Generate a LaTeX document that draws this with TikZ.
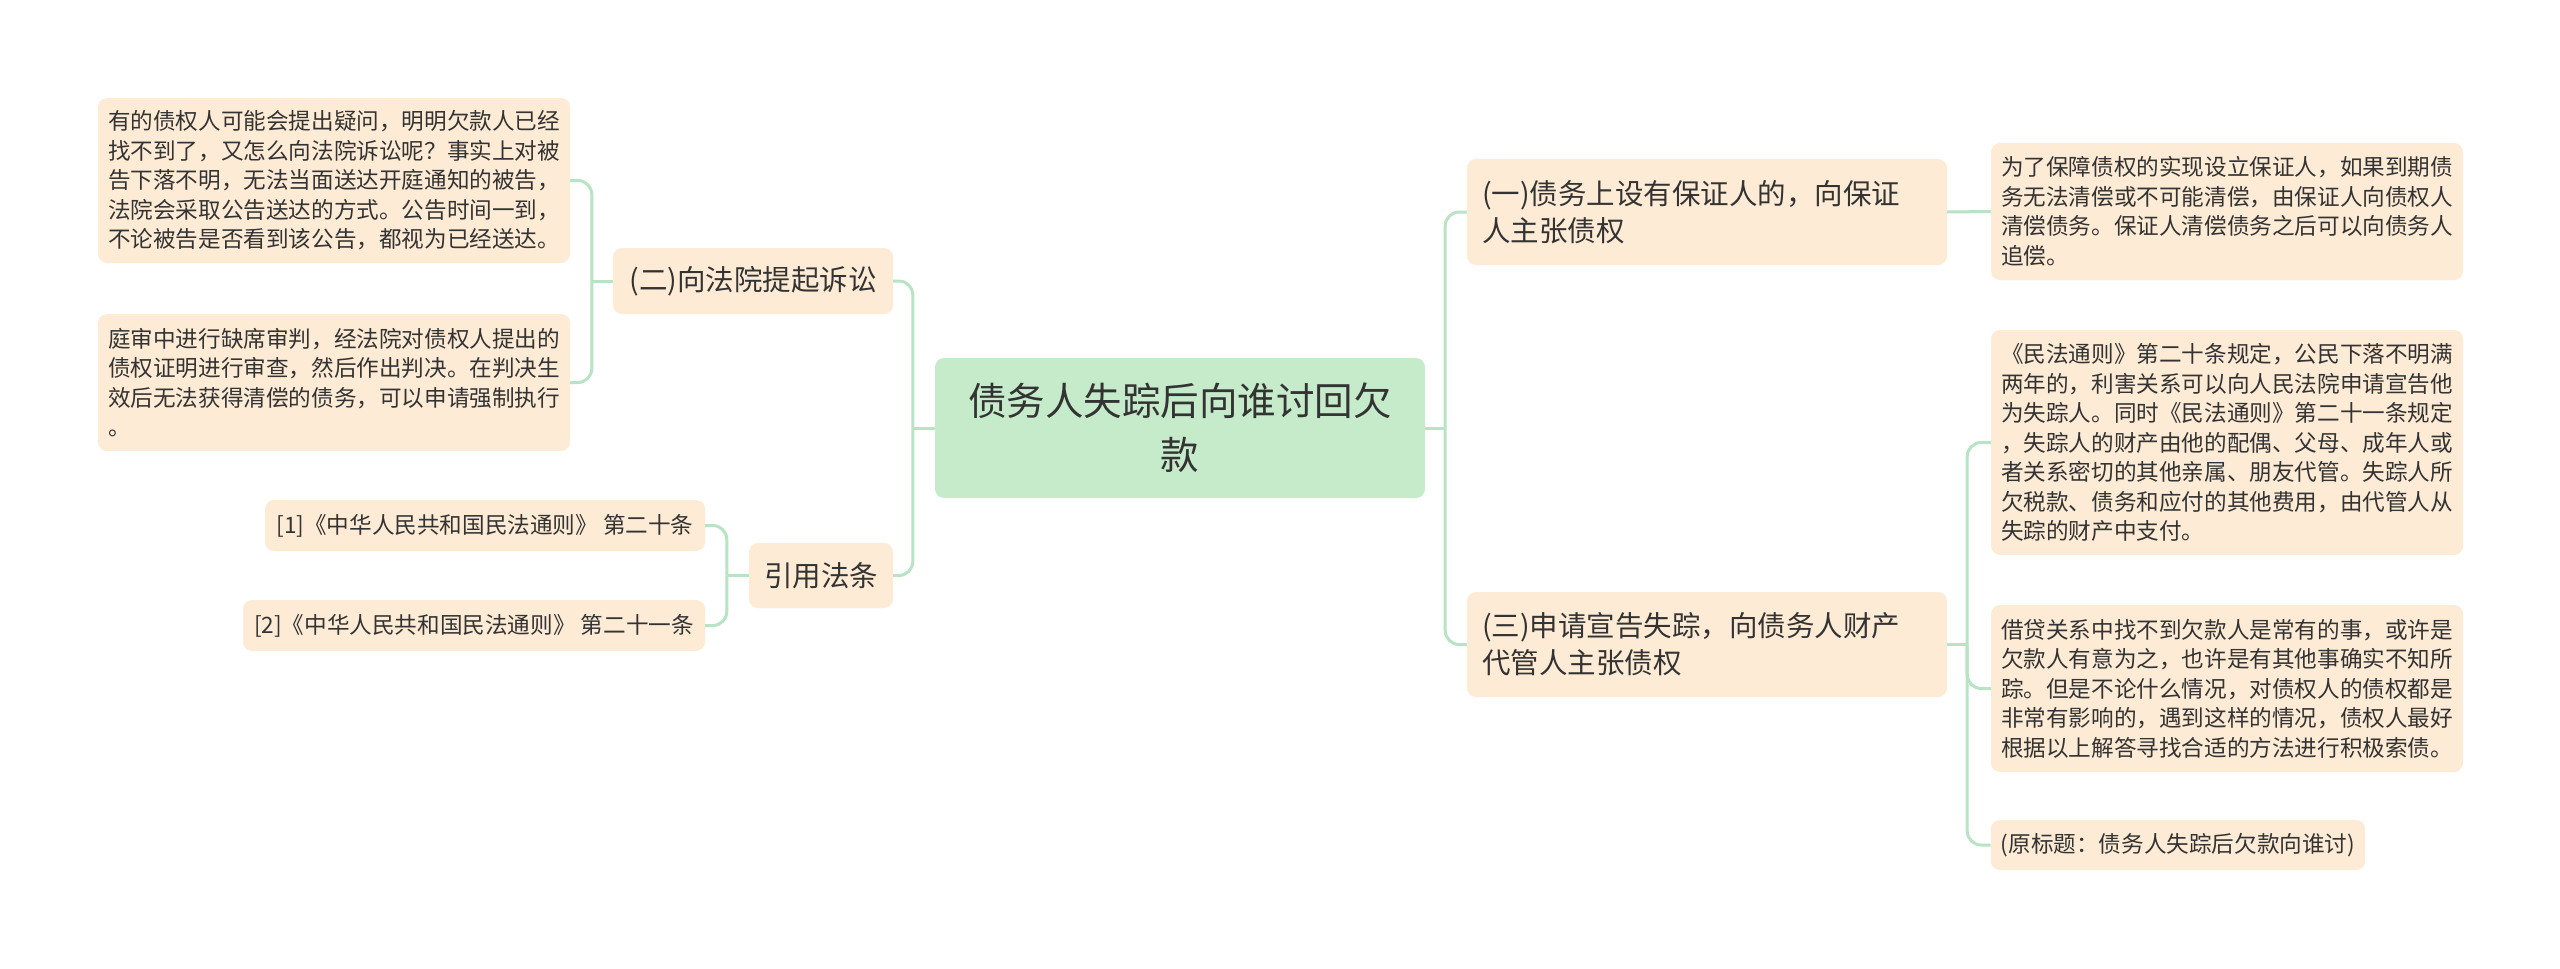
\documentclass[tikz,border=0pt]{standalone}
\usepackage{fontspec}
\setmainfont{Noto Sans CJK SC}
\usetikzlibrary{calc}
\definecolor{peach}{HTML}{FDEBD5}
\definecolor{mint}{HTML}{C5EBCB}
\definecolor{linec}{HTML}{B8E3C5}
\definecolor{txt}{HTML}{333333}
\begin{document}
\begin{tikzpicture}[x=1pt,y=-1pt,
  box/.style={fill=peach, rounded corners=9pt, inner xsep=10pt, inner ysep=0pt, text=txt, anchor=center},
  leaf/.style={box, font=\fontsize{22.6}{29.5}\selectfont, align=left},
  sub/.style={box, inner xsep=15pt, font=\fontsize{28.5}{37}\selectfont, align=left},
  rootbox/.style={box, fill=mint, font=\fontsize{38.5}{54}\selectfont, align=center},
  conn/.style={draw=linec, line width=3pt, rounded corners=14pt},
]
\useasboundingbox (0,0) rectangle (2560,969);
\fill[white] (0,0) rectangle (2560,969);

% root
\node[rootbox, minimum width=490pt, minimum height=140pt, text width=470pt] (root) at (1180,428)
  {债务人失踪后向谁讨回欠\\款};

% right branch
\node[sub, minimum width=480pt, minimum height=106pt, text width=450pt] (n1) at (1707,212)
  {(一)债务上设有保证人的，向保证\\人主张债权};
\node[sub, minimum width=480pt, minimum height=105pt, text width=450pt] (n3) at (1707,644.5)
  {(三)申请宣告失踪，向债务人财产\\代管人主张债权};

\node[leaf, minimum width=472pt, minimum height=137pt, text width=452pt] (t1) at (2227,211.5)
  {为了保障债权的实现设立保证人，如果到期债\\务无法清偿或不可能清偿，由保证人向债权人\\清偿债务。保证人清偿债务之后可以向债务人\\追偿。};
\node[leaf, minimum width=472pt, minimum height=225pt, text width=452pt] (t2) at (2227,442.5)
  {《民法通则》第二十条规定，公民下落不明满\\两年的，利害关系可以向人民法院申请宣告他\\为失踪人。同时《民法通则》第二十一条规定\\，失踪人的财产由他的配偶、父母、成年人或\\者关系密切的其他亲属、朋友代管。失踪人所\\欠税款、债务和应付的其他费用，由代管人从\\失踪的财产中支付。};
\node[leaf, minimum width=472pt, minimum height=167pt, text width=452pt] (t3) at (2227,688.5)
  {借贷关系中找不到欠款人是常有的事，或许是\\欠款人有意为之，也许是有其他事确实不知所\\踪。但是不论什么情况，对债权人的债权都是\\非常有影响的，遇到这样的情况，债权人最好\\根据以上解答寻找合适的方法进行积极索债。};
\node[leaf, minimum width=374pt, minimum height=50pt] (t4) at (2178,845)
  {(原标题：债务人失踪后欠款向谁讨)};

% left branch
\node[sub, minimum width=280pt, minimum height=66pt] (n2) at (753,281)
  {(二)向法院提起诉讼};
\node[sub, minimum width=144pt, minimum height=65pt] (law) at (821,575.5)
  {引用法条};

\node[leaf, minimum width=472pt, minimum height=165pt, text width=452pt] (a) at (334,180.5)
  {有的债权人可能会提出疑问，明明欠款人已经\\找不到了，又怎么向法院诉讼呢？事实上对被\\告下落不明，无法当面送达开庭通知的被告，\\法院会采取公告送达的方式。公告时间一到，\\不论被告是否看到该公告，都视为已经送达。};
\node[leaf, minimum width=472pt, minimum height=137pt, text width=452pt] (b) at (334,382.5)
  {庭审中进行缺席审判，经法院对债权人提出的\\债权证明进行审查，然后作出判决。在判决生\\效后无法获得清偿的债务，可以申请强制执行\\。};

\node[leaf, minimum width=440pt, minimum height=51pt] (r1) at (485,525.5)
  {[1]《中华人民共和国民法通则》 第二十条};
\node[leaf, minimum width=462pt, minimum height=51pt] (r2) at (474,625.5)
  {[2]《中华人民共和国民法通则》 第二十一条};

% connectors right
\draw[conn] (root.east) -- ++(20,0) coordinate (rj);
\draw[conn] (rj) |- (n1.west);
\draw[conn] (rj) |- (n3.west);
\draw[conn] (n1.east) -- (t1.west);
\draw[conn] (n3.east) -- ++(20,0) coordinate (j3);
\draw[conn] (j3) |- (t2.west);
\draw[conn] (j3) |- (t3.west);
\draw[conn] (j3) |- (t4.west);

% connectors left
\draw[conn] (root.west) -- ++(-22,0) coordinate (lj);
\draw[conn] (lj) |- (n2.east);
\draw[conn] (lj) |- (law.east);
\draw[conn] (n2.west) -- ++(-21,0) coordinate (j2);
\draw[conn] (j2) |- (a.east);
\draw[conn] (j2) |- (b.east);
\draw[conn] (law.west) -- ++(-22,0) coordinate (jl);
\draw[conn] (jl) |- (r1.east);
\draw[conn] (jl) |- (r2.east);
\end{tikzpicture}
\end{document}
